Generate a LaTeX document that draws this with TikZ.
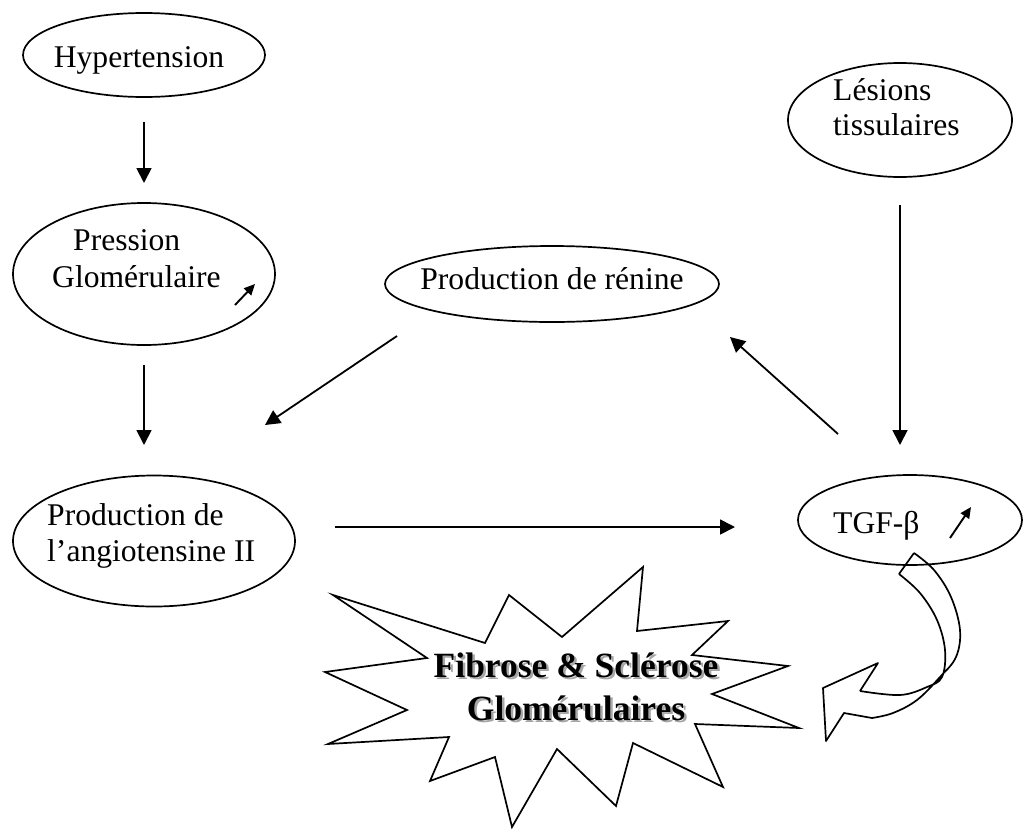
\documentclass[tikz,border=0pt]{standalone}
\usepackage{fontspec}
\setmainfont{Liberation Serif}
\usetikzlibrary{arrows.meta,shapes.geometric}
\begin{document}
\begin{tikzpicture}[x=1pt,y=-1pt,
  ell/.style={draw, ellipse, line width=1.7pt, inner sep=0pt, outer sep=0pt},
  lbl/.style={font=\fontsize{31.6}{36}\selectfont, inner sep=0pt},
  arr/.style={line width=1.8pt, -{Triangle[length=15pt,width=15pt]}},
  sarr/.style={line width=1.9pt, -{Triangle[length=11pt,width=10pt]}},
  bigtxt/.style={font=\fontsize{35.5}{40}\selectfont\bfseries, inner sep=0pt},
  shd/.style={bigtxt, text=black!35},
  outline/.style={line width=1.7pt, line join=miter}
]
\useasboundingbox (0,0) rectangle (1023,828);

% ellipses
\node[ell, minimum width=242pt, minimum height=84pt] (hyp) at (144,55) {};
\node[ell, minimum width=262pt, minimum height=142pt] (pres) at (144,274) {};
\node[ell, minimum width=334pt, minimum height=76pt] (ren) at (552,284) {};
\node[ell, minimum width=224pt, minimum height=114pt] (les) at (900,120) {};
\node[ell, minimum width=282pt, minimum height=131pt] (ang) at (154,541) {};
\node[ell, minimum width=224pt, minimum height=90pt] (tgf) at (910,520) {};

% labels
\node[lbl, anchor=base] (thyp) at (139,67) {Hypertension};
\node[lbl, anchor=base west] (tpres1) at (73,250) {Pression};
\node[lbl, anchor=base west] (tpres2) at (52,287) {Glomérulaire};
\node[lbl, anchor=base] (tren) at (552,289) {Production de rénine};
\node[lbl, anchor=base west] (tles1) at (833,100) {Lésions};
\node[lbl, anchor=base west] (tles2) at (833,135) {tissulaires};
\node[lbl, anchor=base west] (tang1) at (47,525) {Production de};
\node[lbl, anchor=base west] (tang2) at (47,561) {l’angiotensine II};
\node[lbl, anchor=base west] (ttgf) at (833,533) {TGF-β};

% small "increase" arrows
\coordinate (sp1) at (235,305); \coordinate (sp2) at (255,284);
\draw[sarr] (sp1) -- (sp2);
\coordinate (st1) at (950,538); \coordinate (st2) at (971,507);
\draw[sarr] (st1) -- (st2);

% connectors
\coordinate (a1s) at (144,122); \coordinate (a1e) at (144,183);
\draw[arr] (a1s) -- (a1e);
\coordinate (a2s) at (144,365); \coordinate (a2e) at (144,445);
\draw[arr] (a2s) -- (a2e);
\coordinate (a3s) at (397,336); \coordinate (a3e) at (265,425);
\draw[arr] (a3s) -- (a3e);
\coordinate (a4s) at (900,205); \coordinate (a4e) at (900,445);
\draw[arr] (a4s) -- (a4e);
\coordinate (a5s) at (838,434); \coordinate (a5e) at (730,337);
\draw[arr] (a5s) -- (a5e);
\coordinate (a6s) at (335,527); \coordinate (a6e) at (735,527);
\draw[arr] (a6s) -- (a6e);

% explosion star
\draw[outline] (333,595) -- (485,643) -- (509,595) -- (562,637) -- (643,567)
  -- (637,631) -- (728,621) -- (692,655) -- (788,666) -- (712,694)
  -- (799,728) -- (695,724) -- (723,787) -- (633,743) -- (616,806)
  -- (557,749) -- (512,827) -- (495,757) -- (430,781) -- (449,737)
  -- (328,744) -- (407,710) -- (325,672) -- (427,658) -- cycle;

\node[shd, anchor=base] (sh1) at (578.5,679.5) {Fibrose \& Sclérose};
\node[shd, anchor=base] (sh2) at (578.5,722.5) {Glomérulaires};
\node[bigtxt, anchor=base] (fib1) at (576,677) {Fibrose \& Sclérose};
\node[bigtxt, anchor=base] (fib2) at (576,720) {Glomérulaires};

% curved block arrow
\draw[outline, line join=round] (899,574) -- (914,553)
  plot[smooth, tension=0.6] coordinates {(914,553) (934,570) (951,597) (960,630) (956,657) (940,677) (917,700) (893,713) (872,718)}
  -- (844,713) -- (826,741) -- (823,688) -- (878,663) -- (860,691)
  plot[smooth, tension=0.6] coordinates {(860,691) (900,695) (927,687) (942,677) (945,650) (937,620) (920,593) (899,574)};
\end{tikzpicture}
\end{document}
